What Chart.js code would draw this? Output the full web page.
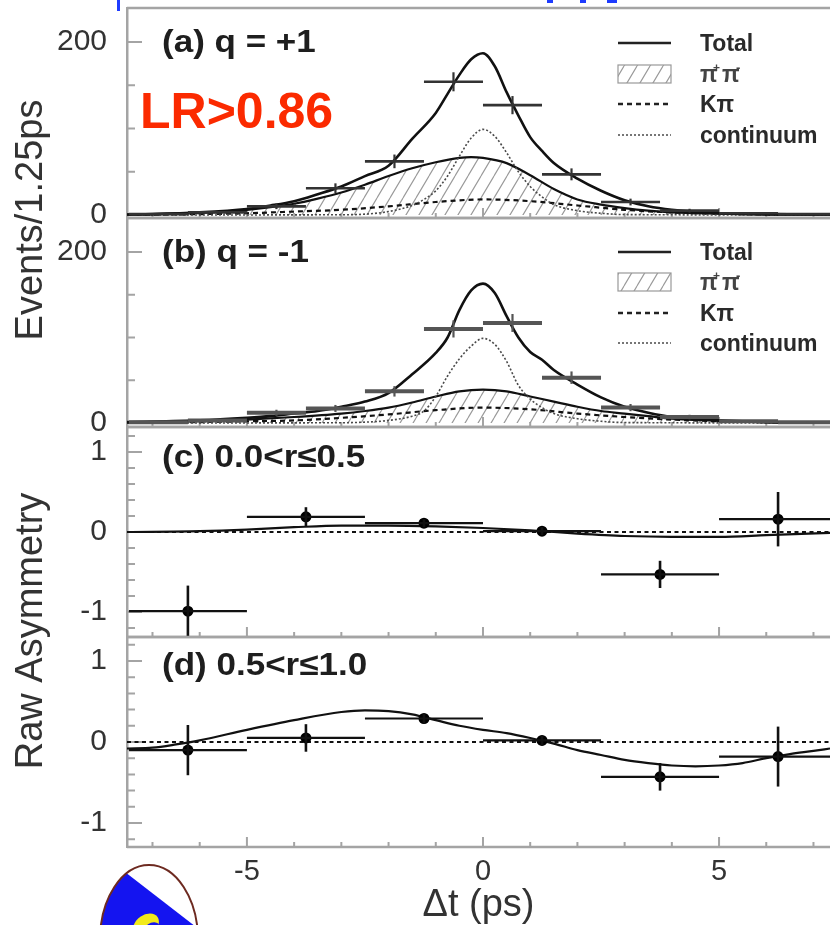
<!DOCTYPE html>
<html><head><meta charset="utf-8">
<script src="https://cdn.jsdelivr.net/npm/chart.js@4.4.1/dist/chart.umd.min.js"></script>
<style>
html,body{margin:0;padding:0;background:#fff;}
#wrap{position:relative;width:830px;height:925px;overflow:hidden;background:#fff;}
canvas{position:absolute;left:0;top:0;}
</style></head><body>
<div id="wrap">
<canvas id="cA" width="830" height="925"></canvas>
<canvas id="cB" width="830" height="925"></canvas>
<canvas id="cC" width="830" height="925"></canvas>
<canvas id="cD" width="830" height="925"></canvas>
</div>
<script>
// ---------------- data ----------------
const X_MIN = -7.54, X_MAX = 7.35;
const xTickLabels = [-5, 0, 5];
const xTickMarks = [-7,-6,-5,-4,-3,-2,-1,0,1,2,3,4,5,6,7];

// fine bins (Events / 1.25 ps)
const fineBins = [-6.875,-5.625,-4.375,-3.125,-1.875,-0.625,0.625,1.875,3.125,4.375,5.625,6.875];
const eventsA = [1,3,10,31,62,154,127,47,15,5,2,1];
const errA    = [1,1.7,3.2,5.6,7.9,11,10.5,6.9,3.9,2.2,1.4,1];
const eventsB = [1,3,12,17,37,110,117,53,18,7,2,1];
const errB    = [1,1.7,3.5,4.1,6.1,10,10.5,7.3,4.2,2.6,1.4,1];

// coarse bins (asymmetry)
const coarseBins = [-6.25,-3.75,-1.25,1.25,3.75,6.25];
const asymC = [-0.99, 0.19, 0.11, 0.01, -0.53, 0.16];
const errC  = [0.32, 0.12, 0.05, 0.05, 0.17, 0.34];
const asymD = [-0.10, 0.05, 0.29, 0.02, -0.43, -0.18];
const errD  = [0.31, 0.17, 0.06, 0.06, 0.17, 0.37];

// fitted curves  [dt, value]
const totalA = [[-7.54,0.5],[-7,1],[-6,3],[-5,7],[-4.5,11],[-4,16],[-3.5,24],[-3,33],[-2.5,45],[-2,57],[-1.5,88],[-1,118],[-0.75,140],[-0.5,162],[-0.25,180],[0,187],[0.25,172],[0.5,142],[0.75,115],[1,90],[1.25,74],[1.5,60],[2,42],[2.5,28],[3,17],[3.5,10],[4,6],[5,2],[6,1],[7.35,0.5]];
const pipiA  = [[-7.54,0.5],[-7,1],[-6,2.5],[-5,6],[-4.5,9],[-4,13],[-3.5,19],[-3,26],[-2.5,35],[-2,45],[-1.5,54],[-1,61],[-0.5,66],[-0.25,67],[0,66],[0.5,60],[1,46],[1.5,30],[2,18],[2.5,12],[3,8],[3.5,5],[4,3],[5,1.5],[6,0.5],[7.35,0]];
const kpiA   = [[-7.54,0],[-6,1],[-5,2],[-4,4],[-3,6],[-2,10],[-1,15],[0,18],[1,16],[2,11],[3,6],[4,3],[5,1.5],[6,0.5],[7.35,0]];
const contA  = [[-7.54,0],[-3,0.3],[-2.5,1],[-2,4],[-1.5,11],[-1.25,18],[-1,28],[-0.75,45],[-0.5,68],[-0.25,89],[0,99],[0.25,91],[0.5,72],[0.75,50],[1,33],[1.25,21],[1.5,12],[2,5],[2.5,2],[3,0.5],[7.35,0]];

const totalB = [[-7.54,1],[-6,3],[-5,6],[-4.5,8],[-4,11],[-3.5,14],[-3,19],[-2.5,25],[-2,35],[-1.5,57],[-1,82],[-0.75,100],[-0.5,132],[-0.25,155],[0,163],[0.25,152],[0.5,125],[0.75,100],[1,83],[1.25,74],[1.5,62],[2,45],[2.5,30],[3,19],[3.5,12],[4,7],[5,3],[6,1],[7.35,0.5]];
const pipiB  = [[-7.54,0.5],[-6,2],[-5,4],[-4,7],[-3,11],[-2.5,14],[-2,18],[-1.5,24],[-1,31],[-0.5,37],[0,39],[0.5,37],[1,31],[1.5,25],[2,19],[2.5,14],[3,11],[3.5,8],[4,5],[5,2.5],[6,1],[7.35,0.5]];
const kpiB   = [[-7.54,0],[-6,1],[-5,2],[-4,3],[-3,6],[-2,10],[-1,15],[0,18],[1,16],[2,11],[3,7],[4,4],[5,2],[6,1],[7.35,0]];
const contB  = [[-7.54,0],[-3,0.3],[-2.5,1],[-2,3],[-1.5,8],[-1.25,14],[-1,31],[-0.75,55],[-0.5,75],[-0.25,90],[0,99],[0.25,92],[0.5,72],[0.75,44],[1,28],[1.25,18],[1.5,11],[2,5],[2.5,2],[3,0.5],[7.35,0]];

const fitC = [[-7.54,0],[-6,0.01],[-5,0.03],[-4,0.06],[-3,0.08],[-2,0.08],[-1,0.07],[0,0.05],[1,0.02],[2,-0.02],[3,-0.05],[4,-0.06],[5,-0.06],[6,-0.04],[7.35,-0.01]];
const fitD = [[-7.54,-0.08],[-7,-0.07],[-6.5,-0.03],[-6,0.02],[-5,0.15],[-4,0.27],[-3,0.37],[-2.5,0.39],[-2,0.38],[-1.5,0.34],[-1,0.27],[-0.5,0.2],[0,0.15],[0.5,0.11],[1,0.05],[1.5,-0.02],[2,-0.1],[2.5,-0.16],[3,-0.22],[3.5,-0.26],[4,-0.29],[4.5,-0.3],[5,-0.29],[5.5,-0.26],[6,-0.2],[6.5,-0.15],[7,-0.11],[7.35,-0.08]];
const zeroLine = [[-7.54,0],[7.35,0]];

const yLabelsEv = [0, 200];
const yMinorEv = [50, 100, 150];
const yLabelsAs = [-1, 0, 1];
const yMinorAs = [-1.2,-0.8,-0.6,-0.4,-0.2,0.2,0.4,0.6,0.8,1.2];

const legendNames = ['Total', 'π+π-', 'Kπ', 'continuum'];

// ---------------- styling ----------------
const FONT = '"Liberation Sans", Arial, Helvetica, sans-serif';
const AXIS = '#a4a4a4';
const TXT = '#2a2a2a';
Chart.defaults.font.family = FONT;

function hatchPattern(ctx) {
  const c = document.createElement('canvas');
  c.width = 13; c.height = 22;
  const g = c.getContext('2d');
  g.strokeStyle = '#9a9a9a'; g.lineWidth = 1.15;
  g.beginPath();
  g.moveTo(0, 22); g.lineTo(13, 0);
  g.moveTo(-13, 22); g.lineTo(0, 0);
  g.moveTo(13, 22); g.lineTo(26, 0);
  g.stroke();
  return ctx.createPattern(c, 'repeat');
}
const pts = a => a.map(p => ({x: p[0], y: p[1]}));

function curve(data, o) {
  return Object.assign({
    type: 'line', data: pts(data), borderColor: '#111', borderWidth: 2,
    pointRadius: 0, cubicInterpolationMode: 'monotone', fill: false, order: 1
  }, o);
}

function text(ctx, s, x, y, font, color, align, sx) {
  ctx.save();
  ctx.font = font; ctx.fillStyle = color; ctx.textAlign = align || 'left';
  ctx.textBaseline = 'alphabetic';
  ctx.translate(x, y); ctx.scale(sx || 1, 1);
  ctx.fillText(s, 0, 0);
  ctx.restore();
}

function drawLegend(ctx, ys, pattern) {
  const x0 = 618, x1 = 671, tx = 700;
  const f = 'bold 23px ' + FONT;
  ctx.save();
  ctx.strokeStyle = '#222';
  ctx.lineWidth = 2.5; ctx.setLineDash([]);
  ctx.beginPath(); ctx.moveTo(x0, ys[0]); ctx.lineTo(x1, ys[0]); ctx.stroke();
  ctx.fillStyle = pattern;
  ctx.fillRect(x0, ys[1] - 9, x1 - x0, 18);
  ctx.strokeStyle = '#999'; ctx.lineWidth = 1.2;
  ctx.strokeRect(x0, ys[1] - 9, x1 - x0, 18);
  ctx.strokeStyle = '#222'; ctx.lineWidth = 2.4; ctx.setLineDash([5, 4]);
  ctx.beginPath(); ctx.moveTo(x0, ys[2]); ctx.lineTo(x1, ys[2]); ctx.stroke();
  ctx.strokeStyle = '#555'; ctx.lineWidth = 1.6; ctx.setLineDash([2, 2]);
  ctx.beginPath(); ctx.moveTo(x0, ys[3]); ctx.lineTo(x1, ys[3]); ctx.stroke();
  ctx.restore();
  text(ctx, legendNames[0], tx, ys[0] + 8, f, TXT);
  text(ctx, 'π', tx, ys[1] + 8, f, '#444');
  text(ctx, '+', tx + 13, ys[1] - 2, 'bold 12px ' + FONT, '#444');
  text(ctx, 'π', tx + 22, ys[1] + 8, f, '#444');
  text(ctx, '-', tx + 36, ys[1] - 2, 'bold 13px ' + FONT, '#444');
  text(ctx, legendNames[2], tx, ys[2] + 8, f, TXT);
  text(ctx, legendNames[3], tx, ys[3] + 8, f, TXT);
}

function panelPlugin(cfg) {
  return {
    id: 'panel' + cfg.name,
    beforeDatasetsDraw(chart) {
      const {ctx, chartArea: ca, scales: {x, y}} = chart;
      ctx.save();
      ctx.strokeStyle = AXIS; ctx.lineWidth = 2.5;
      ctx.beginPath();
      ctx.moveTo(ca.left, ca.top); ctx.lineTo(ca.right, ca.top);
      ctx.moveTo(ca.left, ca.bottom); ctx.lineTo(ca.right, ca.bottom);
      ctx.stroke();
      ctx.lineWidth = 2;
      ctx.beginPath();
      cfg.yMajor.forEach(v => { const p = y.getPixelForValue(v); ctx.moveTo(ca.left, p); ctx.lineTo(ca.left + 15, p); });
      cfg.yMinor.forEach(v => { const p = y.getPixelForValue(v); ctx.moveTo(ca.left, p); ctx.lineTo(ca.left + 8, p); });
      xTickMarks.forEach(v => {
        const p = x.getPixelForValue(v), L = (v % 5 === 0) ? 10 : 5;
        ctx.moveTo(p, ca.bottom); ctx.lineTo(p, ca.bottom - L);
      });
      ctx.stroke();
      ctx.restore();
    },
    afterDatasetsDraw(chart) {
      const {ctx, chartArea: ca, scales: {x, y}} = chart;
      ctx.save();
      ctx.beginPath(); ctx.rect(ca.left, ca.top, ca.right - ca.left, ca.bottom - ca.top); ctx.clip();
      ctx.strokeStyle = cfg.barColor;
      cfg.bx.forEach((cx, i) => {
        const v = cfg.by[i], e = cfg.be[i];
        const px = x.getPixelForValue(cx), py = y.getPixelForValue(v);
        ctx.lineWidth = cfg.hLW;
        ctx.beginPath();
        ctx.moveTo(x.getPixelForValue(cx - cfg.hw), py);
        ctx.lineTo(x.getPixelForValue(cx + cfg.hw), py);
        ctx.stroke();
        ctx.lineWidth = cfg.vLW;
        ctx.beginPath();
        ctx.moveTo(px, y.getPixelForValue(v - e));
        ctx.lineTo(px, y.getPixelForValue(v + e));
        ctx.stroke();
      });
      ctx.restore();
    },
    afterDraw(chart) {
      const {ctx} = chart;
      text(ctx, cfg.label, 162, cfg.labelY, 'bold 31px ' + FONT, '#1e1e1e', 'left', 1.13);
      if (cfg.legendY) drawLegend(ctx, cfg.legendY, cfg.pattern);
      if (cfg.extra) cfg.extra(ctx, chart);
    }
  };
}

function makePanel(cfg) {
  const canvas = document.getElementById(cfg.id);
  const ctx = canvas.getContext('2d');
  cfg.pattern = hatchPattern(ctx);
  const datasets = cfg.datasets(cfg.pattern);
  const showX = !!cfg.showX;
  return new Chart(canvas, {
    type: 'scatter',
    data: {datasets},
    options: {
      responsive: false, animation: false, devicePixelRatio: 1,
      layout: {autoPadding: false, padding: {top: cfg.top, bottom: cfg.bottomPad, left: 0, right: 0}},
      plugins: {legend: {display: false}, tooltip: {enabled: false}},
      scales: {
        x: {
          type: 'linear', min: X_MIN, max: X_MAX, display: showX, position: 'bottom',
          afterBuildTicks: s => { s.ticks = xTickLabels.map(v => ({value: v})); },
          afterFit: s => { if (showX) s.height = 78; s.paddingLeft = 0; s.paddingRight = 0; },
          grid: {display: false, drawTicks: false}, border: {display: false},
          ticks: {font: {size: 29}, color: '#333', padding: 8, maxRotation: 0, autoSkip: false,
                  callback: v => String(v)},
          title: {display: showX, text: 'Δt (ps)', color: '#333',
                  font: {size: 38, lineHeight: 1}, padding: {top: 0, bottom: 0}}
        },
        y: {
          type: 'linear', min: cfg.ymin, max: cfg.ymax, position: 'left',
          afterBuildTicks: s => { s.ticks = cfg.yMajor.map(v => ({value: v})); },
          afterFit: s => { s.width = 127; s.paddingTop = 0; s.paddingBottom = 0; },
          grid: {display: false, drawTicks: false},
          border: {display: true, color: AXIS, width: 2.5},
          ticks: {font: {size: 30}, color: '#333', padding: 20, autoSkip: false,
                  callback: v => String(v)}
        }
      }
    },
    plugins: [panelPlugin(cfg)]
  });
}

function evDatasets(total, pipi, kpi, cont, ev) {
  return pat => [
    curve(total, {borderWidth: 2.6, order: 0}),
    curve(cont, {borderColor: '#4a4a4a', borderWidth: 1.6, borderDash: [2, 2], order: 2}),
    curve(kpi, {borderWidth: 2.2, borderDash: [5, 4], order: 3}),
    curve(pipi, {borderWidth: 2.2, fill: 'origin', backgroundColor: pat, order: 4}),
    {type: 'scatter', data: fineBins.map((x, i) => ({x, y: ev[i]})), pointRadius: 0, order: 5}
  ];
}
function asDatasets(fit, as) {
  return () => [
    {type: 'scatter', data: coarseBins.map((x, i) => ({x, y: as[i]})), pointRadius: 5.5,
     backgroundColor: '#000', borderColor: '#000', borderWidth: 0, order: 0},
    curve(fit, {borderWidth: 2.2, order: 1}),
    curve(zeroLine, {borderWidth: 2.2, borderDash: [4, 3.5], order: 2, cubicInterpolationMode: 'default'})
  ];
}

makePanel({
  id: 'cA', name: 'A', top: 8, bottomPad: 925 - 218, ymin: -3.47, ymax: 239.3,
  yMajor: yLabelsEv, yMinor: yMinorEv,
  datasets: evDatasets(totalA, pipiA, kpiA, contA, eventsA),
  bx: fineBins, by: eventsA, be: errA, hw: 0.625, hLW: 2.6, vLW: 2.2, barColor: '#333',
  label: '(a) q = +1', labelY: 52, legendY: [43, 74, 104, 135],
  extra: (ctx) => {
    text(ctx, 'LR>0.86', 140, 128, 'bold 50px ' + FONT, '#fb2a00', 'left', 1);
    ctx.save(); ctx.translate(42, 220); ctx.rotate(-Math.PI / 2);
    ctx.font = '38px ' + FONT; ctx.fillStyle = '#333'; ctx.textAlign = 'center'; ctx.textBaseline = 'alphabetic';
    ctx.fillText('Events/1.25ps', 0, 0); ctx.restore();
    ctx.save(); ctx.fillStyle = '#1f3cff';
    ctx.fillRect(117, 0, 3, 11); ctx.fillRect(547, 0, 6, 3); ctx.fillRect(580, 0, 6, 3); ctx.fillRect(607, 0, 10, 3);
    ctx.restore();
  }
});
makePanel({
  id: 'cB', name: 'B', top: 218, bottomPad: 925 - 427, ymin: -4.7, ymax: 239.8,
  yMajor: yLabelsEv, yMinor: yMinorEv,
  datasets: evDatasets(totalB, pipiB, kpiB, contB, eventsB),
  bx: fineBins, by: eventsB, be: errB, hw: 0.625, hLW: 4, vLW: 2.2, barColor: '#555',
  label: '(b) q = -1', labelY: 262, legendY: [252, 282, 313, 343]
});
makePanel({
  id: 'cC', name: 'C', top: 427, bottomPad: 925 - 637, ymin: -1.3125, ymax: 1.3125,
  yMajor: yLabelsAs, yMinor: yMinorAs,
  datasets: asDatasets(fitC, asymC),
  bx: coarseBins, by: asymC, be: errC, hw: 1.25, hLW: 2.2, vLW: 2.6, barColor: '#111',
  label: '(c) 0.0<r≤0.5', labelY: 467,
  extra: (ctx) => {
    ctx.save(); ctx.translate(42, 631); ctx.rotate(-Math.PI / 2);
    ctx.font = '38px ' + FONT; ctx.fillStyle = '#333'; ctx.textAlign = 'center'; ctx.textBaseline = 'alphabetic';
    ctx.fillText('Raw Asymmetry', 0, 0); ctx.restore();
  }
});
makePanel({
  id: 'cD', name: 'D', top: 637, bottomPad: 0, showX: true, ymin: -1.296, ymax: 1.296,
  yMajor: yLabelsAs, yMinor: yMinorAs,
  datasets: asDatasets(fitD, asymD),
  bx: coarseBins, by: asymD, be: errD, hw: 1.25, hLW: 2.2, vLW: 2.6, barColor: '#111',
  label: '(d) 0.5<r≤1.0', labelY: 675,
  extra: (ctx) => {
    ctx.save();
    ctx.beginPath(); ctx.ellipse(149, 940, 49, 75, 0, 0, Math.PI * 2);
    ctx.fillStyle = '#ffffff'; ctx.fill();
    ctx.save(); ctx.clip();
    ctx.fillStyle = '#1414f0';
    ctx.beginPath(); ctx.moveTo(90, 870); ctx.lineTo(125, 872); ctx.lineTo(200, 930); ctx.lineTo(90, 930); ctx.closePath(); ctx.fill();
    ctx.fillStyle = '#f2ea1a';
    ctx.beginPath(); ctx.ellipse(146, 925, 14, 10, -0.6, 0, Math.PI * 2); ctx.fill();
    ctx.fillStyle = '#1414f0';
    ctx.beginPath(); ctx.ellipse(152, 930, 9, 7, -0.6, 0, Math.PI * 2); ctx.fill();
    ctx.restore();
    ctx.beginPath(); ctx.ellipse(149, 940, 49, 75, 0, 0, Math.PI * 2);
    ctx.strokeStyle = '#6d2a20'; ctx.lineWidth = 2; ctx.stroke();
    ctx.restore();
  }
});
</script>
</body></html>
